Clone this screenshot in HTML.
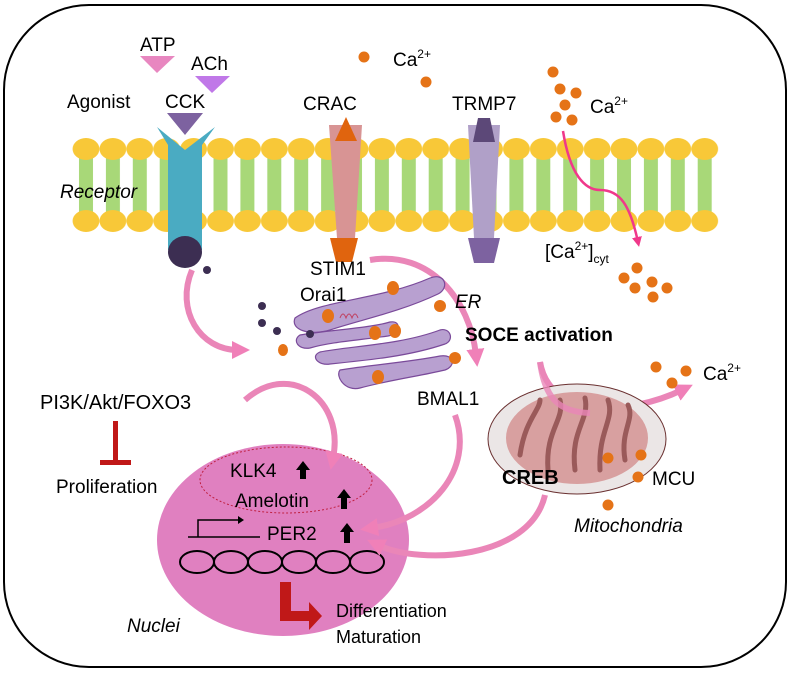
<!DOCTYPE html>
<html><head><meta charset="utf-8"><style>
html,body{margin:0;padding:0;background:#fff}
svg text{font-family:"Liberation Sans",Arial,sans-serif;fill:#000}
</style></head><body>
<svg width="790" height="673" viewBox="0 0 790 673" xmlns="http://www.w3.org/2000/svg">
<defs>
<marker id="pa" markerUnits="userSpaceOnUse" markerWidth="18" markerHeight="18" refX="6" refY="9" orient="auto"><path d="M0,0 L18,9 L0,18 z" fill="#f080b8"/></marker>
<marker id="ma" markerUnits="userSpaceOnUse" markerWidth="10" markerHeight="10" refX="5" refY="5" orient="auto"><path d="M0,0 L10,5 L0,10 z" fill="#f0388a"/></marker>
<pattern id="lip" patternUnits="userSpaceOnUse" x="72.55" y="136" width="26.9" height="98">
<rect x="6.45" y="13" width="14" height="72" fill="#a8d878"/>
<ellipse cx="13.45" cy="13" rx="13.4" ry="11" fill="#f8c838"/>
<ellipse cx="13.45" cy="85" rx="13.4" ry="11" fill="#f8c838"/>
</pattern>
</defs>
<rect x="4" y="5" width="782" height="662" rx="85" ry="85" fill="#fff" stroke="#000" stroke-width="2"/>

<rect x="72.55" y="136" width="645.6" height="98" fill="url(#lip)"/>

<!-- receptor -->
<path d="M157,127 L185,150 L215,127 L202,145 L202,250 L168,250 L168,145 Z" fill="#4aabc2"/>
<ellipse cx="185" cy="252" rx="17" ry="16" fill="#3c2e52"/>
<circle cx="207" cy="270" r="4" fill="#3c2e52"/>
<polygon points="167,113 203,113 185,135" fill="#7d62a0"/>
<polygon points="140,56 175,56 157,73" fill="#e887c0"/>
<polygon points="195,76 230,76 212,93" fill="#c078e8"/>
<text x="140" y="51" font-size="19">ATP</text>
<text x="191" y="70" font-size="19">ACh</text>
<text x="67" y="108" font-size="19">Agonist</text>
<text x="165" y="108" font-size="19">CCK</text>
<text x="60" y="198" font-size="19" font-style="italic">Receptor</text>

<!-- CRAC -->
<polygon points="329,125 362,125 355,238 337,238" fill="#d89494"/>
<polygon points="346,117 357,141 335,141" fill="#e0640e"/>
<polygon points="330,238 358,238 352,262 336,262" fill="#e0640e"/>
<text x="303" y="110" font-size="19">CRAC</text>
<!-- TRMP7 -->
<polygon points="468,125 500,125 494,238 474,238" fill="#b0a0c8"/>
<polygon points="478,118 490,118 495,142 473,142" fill="#5c4878"/>
<polygon points="468,238 500,238 494,263 474,263" fill="#7d62a0"/>
<text x="452" y="110" font-size="19">TRMP7</text>

<!-- Ca top -->
<g fill="#e57317">
<circle cx="364" cy="57" r="5.5"/><circle cx="426" cy="82" r="5.5"/>
<circle cx="553" cy="72" r="5.5"/><circle cx="560" cy="89" r="5.5"/><circle cx="576" cy="93" r="5.5"/>
<circle cx="565" cy="105" r="5.5"/><circle cx="556" cy="117" r="5.5"/><circle cx="572" cy="120" r="5.5"/>
<circle cx="637" cy="268" r="5.5"/><circle cx="624" cy="278" r="5.5"/><circle cx="652" cy="282" r="5.5"/>
<circle cx="635" cy="288" r="5.5"/><circle cx="667" cy="288" r="5.5"/><circle cx="653" cy="297" r="5.5"/>
</g>
<text x="393" y="66" font-size="19">Ca<tspan font-size="12" dy="-8">2+</tspan></text>
<text x="590" y="113" font-size="19">Ca<tspan font-size="12" dy="-8">2+</tspan></text>
<path d="M563,131 C570,175 585,190 600,190 C620,190 630,205 638,242" fill="none" stroke="#f0388a" stroke-width="2.5" marker-end="url(#ma)"/>
<text x="545" y="258" font-size="19">[Ca<tspan font-size="12" dy="-8">2+</tspan><tspan dy="8">]</tspan><tspan font-size="12" dy="5">cyt</tspan></text>

<!-- pink arrows (upper) -->
<g fill="none" stroke="#ea86b8" stroke-width="6" stroke-linecap="butt">
<path d="M370,260 C430,250 470,300 476,355" marker-end="url(#pa)"/>
<path d="M192,270 C175,310 200,350 238,350" marker-end="url(#pa)"/>
<path d="M540,362 C550,420 630,415 682,390" marker-end="url(#pa)"/>
</g>

<!-- ER -->
<g fill="#b8a0d0" stroke="#7a4a9a" stroke-width="1.2">
<path d="M295,318 C320,300 380,300 430,278 C445,272 450,288 438,294 C400,312 360,320 330,330 C310,336 290,330 295,318 Z"/>
<path d="M300,335 C330,330 370,328 390,322 C402,320 400,334 388,336 C360,340 330,342 310,348 C298,350 292,340 300,335 Z"/>
<path d="M320,352 C350,346 400,345 440,330 C450,327 455,340 445,344 C410,356 370,360 330,364 C318,366 310,356 320,352 Z"/>
<path d="M340,370 C370,365 410,362 440,356 C455,354 456,366 445,370 C420,376 390,380 360,388 C345,392 335,376 340,370 Z"/>
</g>
<path d="M340,318 q3,-8 6,0 q3,-8 6,0 q3,-8 6,0" fill="none" stroke="#c04060" stroke-width="1"/>
<g fill="#3c2e52"><circle cx="262" cy="306" r="4"/><circle cx="262" cy="323" r="4"/><circle cx="277" cy="331" r="4"/><circle cx="310" cy="334" r="4"/></g>
<g fill="#e57317">
<ellipse cx="393" cy="288" rx="6" ry="7"/><ellipse cx="440" cy="306" rx="6" ry="6"/><ellipse cx="328" cy="316" rx="6" ry="7"/>
<ellipse cx="375" cy="333" rx="6" ry="7"/><ellipse cx="395" cy="331" rx="6" ry="7"/><ellipse cx="283" cy="350" rx="5" ry="6"/>
<ellipse cx="455" cy="358" rx="6" ry="6"/><ellipse cx="378" cy="377" rx="6" ry="7"/>
</g>
<text x="310" y="275" font-size="19">STIM1</text>
<text x="300" y="301" font-size="19">Orai1</text>
<text x="455" y="308" font-size="19" font-style="italic">ER</text>
<text x="465" y="341" font-size="19" font-weight="bold">SOCE activation</text>

<text x="40" y="409" font-size="20">PI3K/Akt/FOXO3</text>
<rect x="113" y="421" width="5" height="42" fill="#c01818"/>
<rect x="100" y="460" width="31" height="5" fill="#c01818"/>
<text x="56" y="493" font-size="19">Proliferation</text>

<!-- nucleus -->
<ellipse cx="283" cy="540" rx="126" ry="96" fill="#e080c0"/>
<ellipse cx="286" cy="480" rx="86" ry="33" fill="none" stroke="#c02040" stroke-width="1" stroke-dasharray="2,2"/>
<text x="230" y="477" font-size="19">KLK4</text>
<path d="M303,461 l7,9 h-4 v9 h-6 v-9 h-4 z" fill="#000"/>
<text x="235" y="507" font-size="19">Amelotin</text>
<path d="M344,489 l7,9 h-4 v11 h-6 v-11 h-4 z" fill="#000"/>
<path d="M188,537 H260 M198,537 V520 H238" fill="none" stroke="#000" stroke-width="1.5"/>
<path d="M238,516 l6,4 l-6,4 z" fill="#000"/>
<text x="267" y="540" font-size="19">PER2</text>
<path d="M347,523 l7,9 h-4 v11 h-6 v-11 h-4 z" fill="#000"/>
<g fill="none" stroke="#000" stroke-width="2">
<ellipse cx="197" cy="562" rx="17" ry="11"/><ellipse cx="231" cy="562" rx="17" ry="11"/><ellipse cx="265" cy="562" rx="17" ry="11"/>
<ellipse cx="299" cy="562" rx="17" ry="11"/><ellipse cx="333" cy="562" rx="17" ry="11"/><ellipse cx="367" cy="562" rx="17" ry="11"/>
</g>
<path d="M280,582 H291 V611 H309 V602 L322,616 L309,630 V621 H280 Z" fill="#c01818"/>
<text x="336" y="617" font-size="18">Differentiation</text>
<text x="336" y="643" font-size="18">Maturation</text>
<text x="127" y="632" font-size="19" font-style="italic">Nuclei</text>
<text x="417" y="405" font-size="19">BMAL1</text>

<!-- pink arrows into nucleus -->
<g fill="none" stroke="#ea86b8" stroke-width="6" stroke-linecap="butt">
<path d="M245,400 C290,360 345,400 333,458" marker-end="url(#pa)"/>
<path d="M455,415 C475,470 430,520 372,528" marker-end="url(#pa)"/>
<path d="M545,495 C530,560 420,565 378,545" marker-end="url(#pa)"/>
</g>

<!-- mitochondria -->
<ellipse cx="577" cy="439" rx="89" ry="55" fill="#ebe6e6" stroke="#6a3030" stroke-width="1"/>
<ellipse cx="577" cy="438" rx="71" ry="46" fill="#d8a0a0"/>
<g fill="none" stroke="#9a5a5a" stroke-width="5" stroke-linecap="round">
<path d="M520,455 C525,420 540,410 540,400"/><path d="M548,470 C545,430 565,420 560,400"/>
<path d="M575,470 C570,430 590,420 585,398"/><path d="M600,470 C598,430 615,420 608,400"/><path d="M625,460 C620,430 635,420 628,405"/>
</g>
<path d="M540,362 C545,400 560,412 590,413" fill="none" stroke="#ea86b8" stroke-width="6" opacity="0.8"/>
<text x="502" y="484" font-size="20" font-weight="bold">CREB</text>
<text x="652" y="485" font-size="19">MCU</text>
<text x="574" y="532" font-size="19" font-style="italic">Mitochondria</text>
<g fill="#e57317">
<circle cx="608" cy="458" r="5.5"/><circle cx="641" cy="455" r="5.5"/><circle cx="638" cy="477" r="5.5"/><circle cx="608" cy="505" r="5.5"/>
<circle cx="656" cy="367" r="5.5"/><circle cx="672" cy="383" r="5.5"/><circle cx="686" cy="371" r="5.5"/>
</g>
<text x="703" y="380" font-size="19">Ca<tspan font-size="12" dy="-8">2+</tspan></text>
</svg>
</body></html>
